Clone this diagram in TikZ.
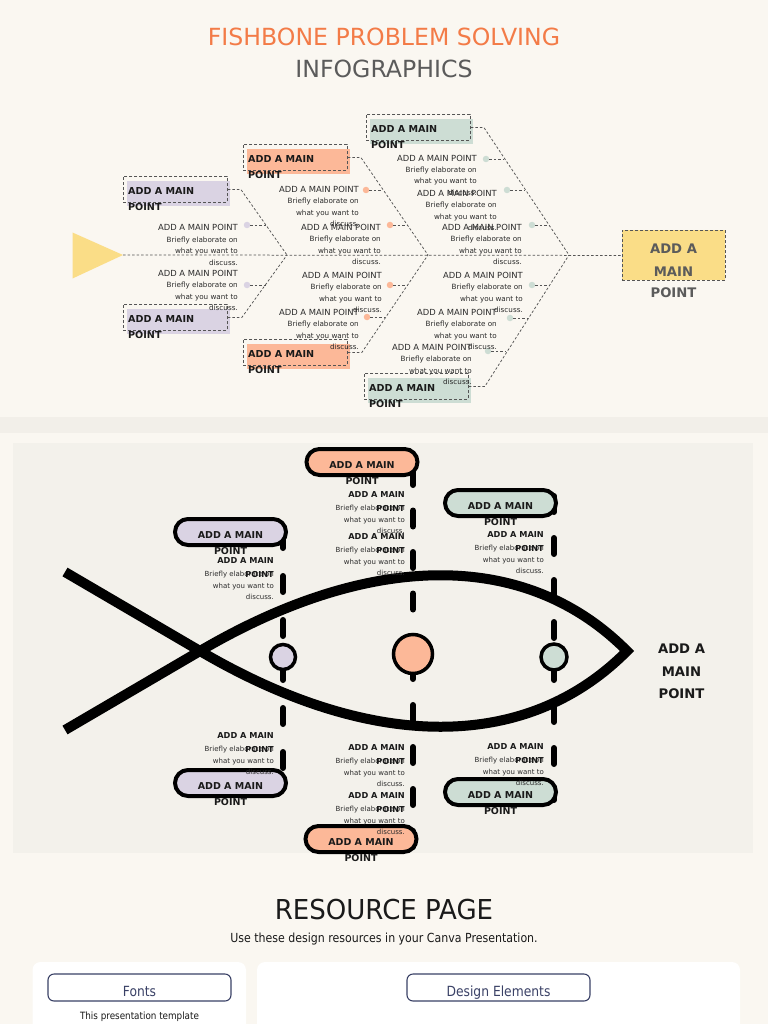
\documentclass[tikz,border=0pt]{standalone}
\usepackage{fontspec}
\setmainfont{DejaVu Sans}
\newfontfamily\condA[FakeStretch=0.95]{DejaVu Sans}
\newfontfamily\condB[FakeStretch=0.88]{DejaVu Sans}
\usetikzlibrary{calc}
\definecolor{cream}{HTML}{FAF7F1}
\definecolor{band}{HTML}{F2EFE9}
\definecolor{panel}{HTML}{F3F1EB}
\definecolor{titleor}{HTML}{F37B47}
\definecolor{titlegr}{HTML}{5B5B5B}
\definecolor{purp}{HTML}{DAD3E3}
\definecolor{orng}{HTML}{FCB898}
\definecolor{grn}{HTML}{CDDDD4}
\definecolor{yel}{HTML}{FADD87}
\definecolor{dashc}{HTML}{555555}
\definecolor{ink}{HTML}{1A1A1A}
\definecolor{ink2}{HTML}{2B2B2B}
\definecolor{navy}{HTML}{3A4166}
\tikzset{
  bone/.style={draw=dashc, dash pattern=on 2.5pt off 2pt, line width=0.75pt},
  tbox/.style={draw=dashc, dash pattern=on 3pt off 2pt, line width=0.85pt, minimum width=104pt, minimum height=26pt, inner sep=0pt},
  boxtxt/.style={font=\fontsize{9.6}{11}\selectfont\bfseries, text=ink, inner sep=0pt},
  toptitle/.style={font=\fontsize{8.4}{10}\selectfont, text=ink2, inner sep=0pt},
  topbody/.style={font=\fontsize{7.2}{9}\selectfont, text=ink2, inner sep=0pt},
  tdot/.style={circle, inner sep=0pt, minimum size=6.5pt},
  maintxt/.style={font=\fontsize{13.2}{15}\selectfont\bfseries, text=titlegr, inner sep=0pt},
  vdash/.style={line width=6pt, line cap=round, draw=black},
  pill/.style={draw=black, line width=4pt, rounded corners=13pt, minimum width=111pt, minimum height=26pt, inner sep=0pt},
  pilltxt/.style={font=\fontsize{9.5}{11}\selectfont\bfseries, text=ink, inner sep=0pt},
  midtitle/.style={font=\fontsize{8.2}{10}\selectfont\bfseries, text=ink, inner sep=0pt},
  midbody/.style={font=\fontsize{7}{9}\selectfont, text=ink2, inner sep=0pt},
  bcirc/.style={circle, draw=black, line width=3.5pt, inner sep=0pt},
  fishlbl/.style={font=\fontsize{13.2}{15}\selectfont\bfseries, text=ink, inner sep=0pt},
  btn/.style={draw=navy, line width=1.1pt, rounded corners=6pt, fill=white, minimum width=183pt, minimum height=27pt, inner sep=0pt},
  btntxt/.style={font=\condB\fontsize{14}{16}\selectfont, text=navy, inner sep=0pt, anchor=base}
}
\newcommand\fbTopBox[4]{%
  \fill[#4] (#2+4,#3+5) rectangle (#2+107,#3+30);
  \node[tbox, anchor=north west] (#1) at (#2,#3) {};
  \node[boxtxt, anchor=west] (#1a) at (#2+5,#3+15) {ADD A MAIN};
  \node[boxtxt, anchor=west] (#1b) at (#2+5,#3+31) {POINT};
}
\newcommand\fbTopSub[3]{%
  \node[toptitle, anchor=east] (#1a) at (#2,#3) {ADD A MAIN POINT};
  \node[topbody, anchor=base east] (#1b) at (#2,#3+14.5) {Briefly elaborate on};
  \node[topbody, anchor=base east] (#1c) at (#2,#3+26) {what you want to};
  \node[topbody, anchor=base east] (#1d) at (#2,#3+37.5) {discuss.};
}
\newcommand\fbTopDot[5]{%
  \node[tdot, fill=#5] (#1) at (#2,#3) {};
  \coordinate (#1e) at (#4,#3);
  \draw[bone] (#1) -- (#1e);
}
\newcommand\fbMidSub[3]{%
  \node[midbody, anchor=base east] (#1c) at (#2,#3+15.5) {Briefly elaborate on};
  \node[midbody, anchor=base east] (#1d) at (#2,#3+27) {what you want to};
  \node[midbody, anchor=base east] (#1e) at (#2,#3+38.5) {discuss.};
  \node[midtitle, anchor=east] (#1a) at (#2,#3) {ADD A MAIN};
  \node[midtitle, anchor=east] (#1b) at (#2,#3+14) {POINT};
}
\newcommand\fbPill[4]{%
  \node[pill, fill=#4] (#1) at (#2,#3) {};
  \node[pilltxt] (#1a) at (#2,#3+3.5) {ADD A MAIN};
  \node[pilltxt] (#1b) at (#2,#3+19) {POINT};
}
\begin{document}
\begin{tikzpicture}[x=1pt,y=-1pt]
\useasboundingbox (0,0) rectangle (768,1024);
\fill[cream] (0,0) rectangle (768,1024);
\fill[band] (0,417) rectangle (768,433);
\fill[panel] (13,443) rectangle (753,853);

% ---------- titles ----------
\node[font=\fontsize{23.6}{28}\selectfont, text=titleor, inner sep=0pt] (t1) at (384,37) {FISHBONE PROBLEM SOLVING};
\node[font=\fontsize{23.6}{28}\selectfont, text=titlegr, inner sep=0pt] (t2) at (384,69) {INFOGRAPHICS};

% ---------- top fishbone ----------
\fill[yel] (72.5,232.5) -- (123,255) -- (72.5,278.5) -- cycle;
\coordinate (tip) at (123,255);
\node[tbox, fill=yel, minimum width=103pt, minimum height=50pt, anchor=north west] (main) at (622,230) {};
\draw[bone] (tip) -- (main.west);
\node[maintxt] (m1) at (673.5,249) {ADD A};
\node[maintxt] (m2) at (673.5,272) {MAIN};
\node[maintxt] (m3) at (673.5,293) {POINT};

\coordinate (vP) at (287,255);
\coordinate (vO) at (428,255);
\coordinate (vG) at (569,255);

\fbTopBox{P1}{123}{176}{purp}
\fbTopBox{P2}{123}{304}{purp}
\fbTopBox{O1}{243}{144}{orng}
\fbTopBox{O2}{243}{339}{orng}
\fbTopBox{G1}{366}{114}{grn}
\fbTopBox{G2}{364}{373}{grn}

\draw[bone] (P1.east) -- ++(13,0) -- (vP);
\draw[bone] (P2.east) -- ++(14,0) -- (vP);
\draw[bone] (O1.east) -- ++(13,0) -- (vO);
\draw[bone] (O2.east) -- ++(14,0) -- (vO);
\draw[bone] (G1.east) -- ++(13,0) -- (vG);
\draw[bone] (G2.east) -- ++(16,0) -- (vG);

\fbTopDot{pd1}{247}{225}{265.6}{purp}
\fbTopDot{pd2}{247}{285}{265.6}{purp}
\fbTopDot{od1}{366}{190}{382.4}{orng}
\fbTopDot{od2}{390}{225}{407}{orng}
\fbTopDot{od3}{390}{285}{407.2}{orng}
\fbTopDot{od4}{367}{317}{385}{orng}
\fbTopDot{gd1}{486}{159}{504.3}{grn}
\fbTopDot{gd2}{507}{190}{525.2}{grn}
\fbTopDot{gd3}{532}{225}{548.8}{grn}
\fbTopDot{gd4}{532}{285}{549.3}{grn}
\fbTopDot{gd5}{510}{318}{527.6}{grn}
\fbTopDot{gd6}{488}{351}{506}{grn}

\fbTopSub{ps1}{238}{227.5}
\fbTopSub{ps2}{238}{273}
\fbTopSub{os1}{359}{189}
\fbTopSub{os2}{381}{227}
\fbTopSub{os3}{382}{275}
\fbTopSub{os4}{359}{312}
\fbTopSub{gs1}{477}{158}
\fbTopSub{gs2}{497}{193}
\fbTopSub{gs3}{522}{227}
\fbTopSub{gs4}{523}{275}
\fbTopSub{gs5}{497}{312}
\fbTopSub{gs6}{472}{347}

% ---------- middle fish ----------
\coordinate (pa) at (283,532); \coordinate (pb) at (283,790);
\coordinate (oa) at (413,469); \coordinate (ob) at (413,634);
\coordinate (oc) at (413,663); \coordinate (od) at (413,852);
\coordinate (ga) at (554,496); \coordinate (gb) at (554,800);
\draw[vdash, dash pattern=on 16pt off 28pt] (pa) -- (pb);
\draw[vdash, dash pattern=on 16pt off 25.5pt] (oa) -- (ob);
\draw[vdash, dash pattern=on 16pt off 26pt] (oc) -- (od);
\draw[vdash, dash pattern=on 16pt off 26pt] (ga) -- (gb);

\draw[line width=10pt, line join=miter, miter limit=10]
  (65,572) -- (200,651) .. controls (372,752) and (527,752) .. (627,651)
  .. controls (527,550) and (372,550) .. (200,651) -- (65,730);

\node[bcirc, fill=purp, minimum size=25pt] (cp) at (283,657) {};
\node[bcirc, fill=orng, minimum size=39pt] (co) at (413,654) {};
\node[bcirc, fill=grn, minimum size=26pt] (cg) at (554,657) {};

\fbPill{mp1}{230.5}{532}{purp}
\fbPill{mo1}{362}{462}{orng}
\fbPill{mg1}{500.5}{503}{grn}
\fbPill{mp2}{230.5}{783}{purp}
\fbPill{mo2}{361}{839}{orng}
\fbPill{mg2}{500.5}{792}{grn}

\fbMidSub{qs1}{274}{561}
\fbMidSub{qs2}{274}{736}
\fbMidSub{rs1}{405}{495}
\fbMidSub{rs2}{405}{537}
\fbMidSub{rs3}{405}{748}
\fbMidSub{rs4}{405}{796}
\fbMidSub{ss1}{544}{535}
\fbMidSub{ss2}{544}{747}

\node[fishlbl] (f1) at (681.5,649) {ADD A};
\node[fishlbl] (f2) at (681.5,671.5) {MAIN};
\node[fishlbl] (f3) at (681.5,693.5) {POINT};

% ---------- resource page ----------
\node[font=\condA\fontsize{27.4}{32}\selectfont, text=ink, inner sep=0pt] (rp) at (384,910) {RESOURCE PAGE};
\node[font=\condB\fontsize{12.5}{15}\selectfont, text=ink, inner sep=0pt, anchor=base] (rsub) at (384,942.5) {Use these design resources in your Canva Presentation.};
\fill[white, rounded corners=8pt] (32.5,962) rectangle (246,1040);
\fill[white, rounded corners=8pt] (257,962) rectangle (740,1040);
\node[btn] (bfonts) at (139.5,987.5) {};
\node[btn] (bdesign) at (498.5,987.5) {};
\node[btntxt] (bfontst) at (bfonts.center) [yshift=-8.5pt] {Fonts};
\node[btntxt] (bdesignt) at (bdesign.center) [yshift=-8.5pt] {Design Elements};
\node[font=\condB\fontsize{10}{12}\selectfont, text=ink, inner sep=0pt, anchor=base] (ptxt) at (139.5,1019.5) {This presentation template};
\end{tikzpicture}
\end{document}
